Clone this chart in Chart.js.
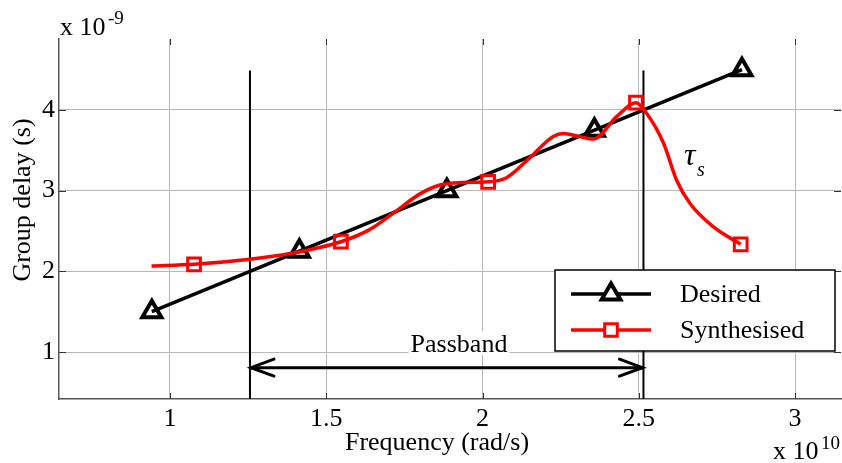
<!DOCTYPE html>
<html>
<head>
<meta charset="utf-8">
<script src="https://cdn.jsdelivr.net/npm/chart.js@4.4.1/dist/chart.umd.min.js"></script>
<style>
  html, body { margin: 0; padding: 0; background: #fff; }
  canvas { display: block; }
</style>
</head>
<body>
<canvas id="delay" width="842" height="463"></canvas>
<script>
// frequency in units of 1e10 rad/s, delay in units of 1e-9 s
const freqDesired = [0.942, 1.414, 1.886, 2.358, 2.83];
const delayDesired = [1.5, 2.25, 3.0, 3.75, 4.5];

const freqSynthMarks = [1.077, 1.547, 2.018, 2.491, 2.826];
const delaySynthMarks = [2.087, 2.367, 3.11, 4.09, 2.335];

const freqSynthCurve = [0.941, 1.077, 1.256, 1.384, 1.547, 1.64, 1.714, 1.8, 1.864, 1.93, 2.018, 2.077, 2.152, 2.226, 2.259, 2.31, 2.355, 2.43, 2.491, 2.525, 2.579, 2.621, 2.664, 2.739, 2.826];
const delaySynthCurve = [2.066, 2.087, 2.149, 2.22, 2.367, 2.52, 2.72, 2.96, 3.07, 3.1, 3.11, 3.16, 3.41, 3.67, 3.71, 3.67, 3.64, 3.92, 4.09, 3.96, 3.59, 3.13, 2.84, 2.55, 2.335];

const bandEdges = [1.256, 2.515];
const bandTop = 4.49;
const arrowLevel = 0.806;

const xTicks = [1, 1.5, 2, 2.5, 3];
const yTicks = [1, 2, 3, 4];
const xMin = 0.645, xMax = 3.147;
const yMin = 0.4174, yMax = 4.88;

const serif = "'Liberation Serif', 'Times New Roman', serif";
const pts = (xs, ys) => xs.map((x, i) => ({ x: x, y: ys[i] }));

const decorations = {
  id: 'decorations',
  beforeDatasetsDraw(chart) {
    const { ctx, chartArea: a, scales: { x, y } } = chart;
    ctx.save();
    // matlab style inward ticks
    ctx.strokeStyle = '#333';
    ctx.lineWidth = 1;
    ctx.beginPath();
    xTicks.forEach(v => {
      const px = Math.round(x.getPixelForValue(v)) + 0.5;
      ctx.moveTo(px, a.bottom); ctx.lineTo(px, a.bottom - 6);
      ctx.moveTo(px, a.top); ctx.lineTo(px, a.top + 6);
    });
    yTicks.forEach(v => {
      const py = Math.round(y.getPixelForValue(v)) + 0.5;
      ctx.moveTo(a.left, py); ctx.lineTo(a.left + 7, py);
      ctx.moveTo(a.right, py); ctx.lineTo(a.right - 7, py);
    });
    ctx.stroke();
    ctx.restore();
  },
  afterDatasetsDraw(chart) {
    const { ctx, scales: { x, y } } = chart;
    ctx.save();

    // passband arrow heads
    const ay = y.getPixelForValue(arrowLevel);
    const x0 = x.getPixelForValue(bandEdges[0]);
    const x1 = x.getPixelForValue(bandEdges[1]);
    ctx.strokeStyle = '#000';
    ctx.lineWidth = 3;
    ctx.lineCap = 'round';
    ctx.beginPath();
    ctx.moveTo(x0 + 24, ay - 8.5); ctx.lineTo(x0 + 1, ay); ctx.lineTo(x0 + 24, ay + 8.5);
    ctx.moveTo(x1 - 24, ay - 8.5); ctx.lineTo(x1 - 1, ay); ctx.lineTo(x1 - 24, ay + 8.5);
    ctx.stroke();

    // Passband label
    ctx.font = '26px ' + serif;
    ctx.textAlign = 'center';
    ctx.textBaseline = 'alphabetic';
    const tw = ctx.measureText('Passband').width;
    ctx.fillStyle = '#fff';
    ctx.fillRect(459 - tw / 2 - 2, 331, tw + 4, 24);
    ctx.fillStyle = '#000';
    ctx.fillText('Passband', 459, 352);

    // tau_s
    ctx.textAlign = 'left';
    ctx.font = 'italic 32px ' + serif;
    ctx.fillText('\u03C4', 684, 165);
    ctx.font = 'italic 20px ' + serif;
    ctx.fillText('s', 697, 176);

    // legend
    const lx = 555, ly = 270, lw = 280, lh = 81;
    ctx.fillStyle = '#fff';
    ctx.fillRect(lx, ly, lw, lh);
    ctx.strokeStyle = '#000';
    ctx.lineWidth = 1.5;
    ctx.strokeRect(lx, ly, lw, lh);
    const rows = [
      { ds: chart.data.datasets[2], yy: 294 },
      { ds: chart.data.datasets[1], yy: 330, line: chart.data.datasets[0] }
    ];
    rows.forEach(r => {
      const lineDs = r.line || r.ds;
      ctx.strokeStyle = lineDs.borderColor;
      ctx.lineWidth = lineDs.borderWidth;
      ctx.lineCap = 'butt';
      ctx.beginPath();
      ctx.moveTo(571, r.yy); ctx.lineTo(651, r.yy);
      ctx.stroke();
      ctx.strokeStyle = r.ds.pointBorderColor;
      ctx.lineWidth = r.ds.pointBorderWidth;
      ctx.fillStyle = '#fff';
      ctx.beginPath();
      const s = r.ds.pointRadius;
      if (r.ds.pointStyle === 'rect') {
        ctx.rect(611 - s * 0.7, r.yy - s * 0.7, 1.4 * s, 1.4 * s);
      } else {
        ctx.moveTo(611, r.yy - s * 0.95);
        ctx.lineTo(611 + s * 0.85, r.yy + s * 0.5);
        ctx.lineTo(611 - s * 0.85, r.yy + s * 0.5);
        ctx.closePath();
      }
      ctx.fill();
      ctx.stroke();
      ctx.fillStyle = '#000';
      ctx.font = '26px ' + serif;
      ctx.textAlign = 'left';
      ctx.textBaseline = 'middle';
      ctx.fillText(r.ds.label, 680, r.yy + 1);
    });

    // axis titles and multipliers
    ctx.fillStyle = '#000';
    ctx.textBaseline = 'alphabetic';
    ctx.font = '26px ' + serif;
    ctx.textAlign = 'center';
    ctx.fillText('Frequency (rad/s)', 437, 450);
    ctx.save();
    ctx.translate(30, 200);
    ctx.rotate(-Math.PI / 2);
    ctx.fillText('Group delay (s)', 0, 0);
    ctx.restore();

    ctx.textAlign = 'left';
    ctx.font = '26px ' + serif;
    ctx.fillText('x 10', 60, 35);
    ctx.font = '19px ' + serif;
    ctx.fillText('-9', 108, 24);
    ctx.font = '26px ' + serif;
    ctx.fillText('x 10', 773, 459);
    ctx.font = '19px ' + serif;
    ctx.fillText('10', 821, 449);

    ctx.restore();
  }
};

new Chart(document.getElementById('delay'), {
  type: 'line',
  data: {
    datasets: [
      {
        label: 'Synthesised curve',
        data: pts(freqSynthCurve, delaySynthCurve),
        borderColor: '#ff0000',
        borderWidth: 3.5,
        pointRadius: 0,
        cubicInterpolationMode: 'monotone',
        order: 1
      },
      {
        label: 'Synthesised',
        data: pts(freqSynthMarks, delaySynthMarks),
        showLine: false,
        pointStyle: 'rect',
        pointRadius: 9,
        pointBorderWidth: 3,
        pointBorderColor: '#ff0000',
        pointBackgroundColor: 'rgba(0,0,0,0)',
        borderColor: '#ff0000',
        borderWidth: 3.5,
        order: 0
      },
      {
        label: 'Desired',
        data: pts(freqDesired, delayDesired),
        borderColor: '#000',
        borderWidth: 3.5,
        pointStyle: 'triangle',
        pointRadius: 11,
        pointBorderWidth: 4,
        pointBorderColor: '#000',
        pointBackgroundColor: 'rgba(0,0,0,0)',
        tension: 0,
        order: 2
      },
      {
        label: 'edge low',
        data: [{ x: bandEdges[0], y: yMin }, { x: bandEdges[0], y: bandTop }],
        borderColor: '#000', borderWidth: 2, pointRadius: 0, order: 3
      },
      {
        label: 'edge high',
        data: [{ x: bandEdges[1], y: yMin }, { x: bandEdges[1], y: bandTop }],
        borderColor: '#000', borderWidth: 2, pointRadius: 0, order: 3
      },
      {
        label: 'passband arrow',
        data: [{ x: bandEdges[0], y: arrowLevel }, { x: bandEdges[1], y: arrowLevel }],
        borderColor: '#000', borderWidth: 3, pointRadius: 0, order: 3
      }
    ]
  },
  options: {
    responsive: false,
    animation: false,
    devicePixelRatio: 1,
    layout: { autoPadding: false, padding: { top: 39, right: 1, left: 0, bottom: 0 } },
    plugins: { legend: { display: false }, tooltip: { enabled: false } },
    scales: {
      x: {
        type: 'linear',
        min: xMin,
        max: xMax,
        afterFit: s => { s.height = 64; s.paddingLeft = 0; s.paddingRight = 0; },
        afterBuildTicks: s => { s.ticks = xTicks.map(v => ({ value: v })); },
        ticks: {
          font: { family: serif, size: 26 },
          color: '#000',
          padding: 5,
          maxRotation: 0,
          callback: v => String(v)
        },
        grid: { color: '#b8b8b8', lineWidth: 1, drawTicks: false },
        border: { color: '#555', width: 1.5 }
      },
      y: {
        type: 'linear',
        min: yMin,
        max: yMax,
        afterFit: s => { s.width = 59; s.paddingTop = 0; s.paddingBottom = 0; },
        afterBuildTicks: s => { s.ticks = yTicks.map(v => ({ value: v })); },
        ticks: {
          font: { family: serif, size: 26 },
          color: '#000',
          padding: 4,
          callback: v => String(v)
        },
        grid: { color: '#b8b8b8', lineWidth: 1, drawTicks: false },
        border: { color: '#555', width: 1.5 }
      }
    }
  },
  plugins: [decorations]
});
</script>
</body>
</html>
